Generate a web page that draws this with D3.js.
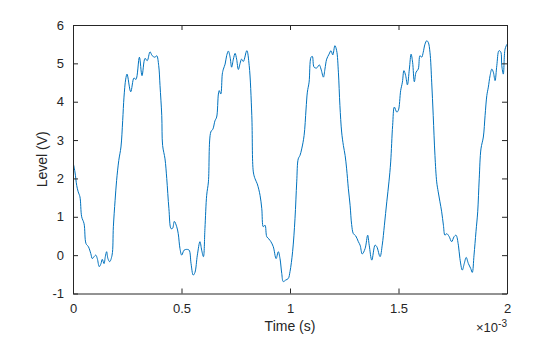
<!DOCTYPE html>
<html>
<head>
<meta charset="utf-8">
<script src="https://cdn.jsdelivr.net/npm/d3@7"></script>
<style>
  html, body { margin: 0; padding: 0; background: #fff; }
  svg { display: block; }
  text { font-family: "Liberation Sans", Arial, Helvetica, sans-serif; fill: #262626; }
</style>
</head>
<body>
<svg id="chart" width="560" height="337"></svg>
<script>
// Sampled signal: time in milliseconds, level in volts
const timeMs = [
  0.000, 0.009, 0.017, 0.024, 0.032, 0.040, 0.051, 0.060, 0.071, 0.082,
  0.089, 0.097, 0.105, 0.112, 0.121, 0.129, 0.135, 0.143, 0.149, 0.155,
  0.161, 0.169, 0.180, 0.186, 0.194, 0.201, 0.211, 0.221, 0.229, 0.235,
  0.243, 0.249, 0.266, 0.281, 0.290, 0.306, 0.318, 0.332, 0.342, 0.355,
  0.365, 0.378, 0.386, 0.395, 0.401, 0.409, 0.413, 0.424, 0.432, 0.442,
  0.452, 0.459, 0.467, 0.478, 0.485, 0.493, 0.501, 0.512, 0.524, 0.535,
  0.544, 0.554, 0.562, 0.573, 0.585, 0.593, 0.601, 0.608, 0.616, 0.624,
  0.635, 0.645, 0.654, 0.662, 0.670, 0.674, 0.681, 0.688, 0.693, 0.701,
  0.708, 0.716, 0.724, 0.731, 0.739, 0.747, 0.754, 0.762, 0.770, 0.777,
  0.785, 0.801, 0.812, 0.824, 0.831, 0.839, 0.849, 0.862, 0.870, 0.877,
  0.885, 0.893, 0.903, 0.912, 0.923, 0.936, 0.946, 0.954, 0.962, 0.969,
  0.980, 0.992, 1.000, 1.012, 1.023, 1.031, 1.038, 1.046, 1.054, 1.065,
  1.074, 1.080, 1.088, 1.097, 1.103, 1.111, 1.123, 1.135, 1.143, 1.154,
  1.161, 1.169, 1.180, 1.189, 1.197, 1.207, 1.215, 1.223, 1.230, 1.238,
  1.246, 1.254, 1.261, 1.269, 1.277, 1.284, 1.292, 1.303, 1.315, 1.323,
  1.333, 1.346, 1.358, 1.365, 1.377, 1.392, 1.400, 1.415, 1.425, 1.435,
  1.446, 1.456, 1.464, 1.473, 1.481, 1.492, 1.499, 1.510, 1.518, 1.525,
  1.533, 1.541, 1.550, 1.558, 1.565, 1.573, 1.581, 1.591, 1.599, 1.607,
  1.614, 1.622, 1.630, 1.637, 1.645, 1.653, 1.660, 1.668, 1.676, 1.683,
  1.691, 1.699, 1.707, 1.714, 1.722, 1.733, 1.745, 1.756, 1.765, 1.776,
  1.783, 1.794, 1.803, 1.812, 1.822, 1.833, 1.840, 1.848, 1.857, 1.865,
  1.872, 1.880, 1.891, 1.899, 1.907, 1.914, 1.922, 1.930, 1.937, 1.945,
  1.953, 1.963, 1.971, 1.976, 1.983, 1.991, 2.000
];
const levelV = [
  2.43, 2.17, 1.82, 1.65, 1.52, 1.00, 0.82, 0.30, 0.22, 0.04,
  -0.09, -0.04, 0.00, -0.09, -0.30, -0.22, -0.11, -0.22, -0.04, 0.09,
  -0.09, -0.17, 0.00, 0.74, 1.43, 1.95, 2.47, 2.82, 3.51, 4.12,
  4.59, 4.72, 4.26, 4.62, 4.58, 5.16, 4.68, 5.13, 5.07, 5.30,
  5.20, 5.16, 5.20, 4.94, 4.42, 3.64, 2.86, 2.51, 2.00, 1.21,
  0.69, 0.70, 0.88, 0.74, 0.56, 0.17, 0.00, 0.13, 0.15, 0.13,
  -0.22, -0.52, -0.45, 0.00, 0.35, 0.13, -0.04, 0.69, 1.56, 1.91,
  3.21, 3.29, 3.50, 3.60, 4.20, 4.29, 4.20, 4.72, 4.85, 4.98,
  5.20, 5.32, 5.16, 4.90, 5.11, 5.26, 5.11, 4.84, 5.00, 5.11,
  5.05, 5.33, 4.94, 3.64, 2.17, 1.99, 1.86, 1.56, 1.21, 0.74,
  0.78, 0.48, 0.42, 0.35, 0.22, -0.09, 0.09, -0.09, -0.48, -0.69,
  -0.65, -0.61, -0.43, 0.09, 0.95, 1.91, 2.51, 2.60, 2.77, 3.12,
  3.81, 4.25, 4.51, 5.16, 5.18, 4.90, 4.88, 4.96, 4.85, 4.64,
  4.85, 5.11, 5.24, 5.33, 5.22, 5.46, 5.33, 4.77, 3.90, 3.21,
  2.86, 2.60, 2.25, 1.73, 1.30, 0.80, 0.56, 0.50, 0.35, 0.26,
  0.03, 0.17, 0.52, 0.26, -0.13, 0.26, 0.22, -0.04, 0.26, 0.78,
  1.39, 1.91, 2.43, 3.38, 3.86, 3.73, 3.77, 4.29, 4.51, 4.81,
  4.68, 4.44, 4.85, 5.24, 5.03, 4.52, 4.77, 4.85, 5.20, 5.16,
  5.29, 5.50, 5.59, 5.55, 5.29, 4.51, 3.64, 2.60, 1.91, 1.65,
  1.39, 1.13, 0.78, 0.52, 0.56, 0.49, 0.35, 0.48, 0.52, 0.26,
  -0.09, -0.39, -0.22, -0.06, -0.22, -0.35, -0.45, 0.00, 0.61, 1.13,
  1.99, 2.77, 3.08, 3.64, 4.16, 4.38, 4.68, 4.85, 4.77, 4.55,
  4.94, 5.33, 5.30, 4.94, 4.72, 5.37, 5.50
];
const xTicks = [0, 0.5, 1, 1.5, 2];          // in units of 1e-3 s
const yTicks = [-1, 0, 1, 2, 3, 4, 5, 6];
const xLabel = "Time (s)";
const yLabel = "Level (V)";

const svg = d3.select("#chart");
const plot = { left: 73, right: 507, top: 25, bottom: 293.5 };
const ink = "#262626";
const tickLen = 5;

const x = d3.scaleLinear().domain([0, 2]).range([plot.left, plot.right]);
const y = d3.scaleLinear().domain([-1, 6]).range([plot.bottom, plot.top]);

const data = timeMs.map((t, i) => ({ t, v: levelV[i] }));

// Signal trace, clipped to the axes box
svg.append("clipPath").attr("id", "box")
  .append("rect")
  .attr("x", plot.left).attr("y", plot.top)
  .attr("width", plot.right - plot.left).attr("height", plot.bottom - plot.top);

const line = d3.line()
  .x(d => x(d.t))
  .y(d => y(d.v))
  .curve(d3.curveCatmullRom.alpha(0.5));

svg.append("path")
  .datum(data)
  .attr("clip-path", "url(#box)")
  .attr("fill", "none")
  .attr("stroke", "#0072BD")
  .attr("stroke-width", 1)
  .attr("stroke-linejoin", "round")
  .attr("d", line);

// Axes with inward ticks on all four sides
function styleAxis(g) {
  g.select(".domain").attr("stroke", ink).attr("stroke-width", 1);
  g.selectAll(".tick line").attr("stroke", ink).attr("stroke-width", 1);
  g.selectAll(".tick text")
    .attr("fill", ink)
    .style("font-size", "13px")
    .style("font-family", '"Liberation Sans", Arial, sans-serif');
}

svg.append("g")
  .attr("transform", `translate(0,${plot.bottom})`)
  .call(d3.axisBottom(x).tickValues(xTicks).tickSizeInner(-tickLen).tickSizeOuter(0)
    .tickPadding(10).tickFormat(d => String(d)))
  .call(styleAxis);

svg.append("g")
  .attr("transform", `translate(0,${plot.top})`)
  .call(d3.axisTop(x).tickValues(xTicks).tickSizeInner(-tickLen).tickSizeOuter(0).tickFormat(""))
  .call(styleAxis);

svg.append("g")
  .attr("transform", `translate(${plot.left},0)`)
  .call(d3.axisLeft(y).tickValues(yTicks).tickSizeInner(-tickLen).tickSizeOuter(0)
    .tickPadding(9).tickFormat(d => String(d)))
  .call(styleAxis);

svg.append("g")
  .attr("transform", `translate(${plot.right},0)`)
  .call(d3.axisRight(y).tickValues(yTicks).tickSizeInner(-tickLen).tickSizeOuter(0).tickFormat(""))
  .call(styleAxis);

// Axis titles
svg.append("text")
  .attr("x", (plot.left + plot.right) / 2)
  .attr("y", 331)
  .attr("text-anchor", "middle")
  .style("font-size", "14px")
  .text(xLabel);

svg.append("text")
  .attr("transform", `translate(47,${(plot.top + plot.bottom) / 2}) rotate(-90)`)
  .attr("text-anchor", "middle")
  .style("font-size", "14px")
  .text(yLabel);

// Exponent marker for the time axis
const expo = svg.append("text")
  .attr("x", plot.right)
  .attr("y", 332)
  .attr("text-anchor", "end")
  .style("font-size", "13px");
expo.append("tspan").text("×10");
expo.append("tspan").attr("dy", -5).style("font-size", "10px").text("-3");
</script>
</body>
</html>
